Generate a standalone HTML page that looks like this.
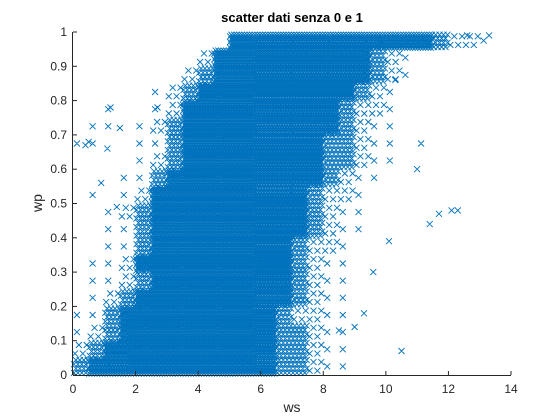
<!DOCTYPE html>
<html><head><meta charset="utf-8">
<style>
body{margin:0;background:#fff;}
svg{display:block;font-family:"Liberation Sans",sans-serif;}
</style></head>
<body>
<svg id="chart" width="560" height="420">
<rect width="560" height="420" fill="#fff"/>
<text x="292" y="22" text-anchor="middle" font-size="13" font-weight="bold" fill="#000">scatter dati senza 0 e 1</text>
<g id="marks"></g>
<g id="axes"></g>
<text x="292" y="412" text-anchor="middle" font-size="14" fill="#262626">ws</text>
<text x="0" y="0" transform="translate(42,203) rotate(-90)" text-anchor="middle" font-size="14" fill="#262626">wp</text>
</svg>
<script>
// density grid: rows = y-bins of 0.05 (bottom to top), cols = x-bins of 0.5 (0..14), level 0-4
const densityRows = [
"3444444444444332110000000000",
"2344444444444332110000000000",
"1234444444444332110000000000",
"1134444444444322110000000000",
"0123444444444432110000000000",
"0112344444444432110000000000",
"0112444444444432110000000000",
"0011344444444432210000000000",
"0011344444444443211000000000",
"0012344444444443211000000000",
"0101244444444443221000000000",
"0001134444444444321100000000",
"0000123444444444332110000000",
"1100113444444444332110100000",
"0110123444444444432110000000",
"0010012444444444432210000000",
"0000012344444444443210000000",
"0000000234444444444321000000",
"0000000024444444444321000000",
"0000000000444444444444432210"
];
const outlierX = [0.4,0.5,1.2,1.1,1.5,2.7,12.3,11.4,11.7,10.1,10.5,13.3,12.6,9.6,10.3,12.1,11.0,9.3,0.9,1.4,8.5,9.0];
const outlierY = [0.67,0.68,0.78,0.66,0.72,0.78,0.48,0.44,0.47,0.39,0.07,0.99,0.99,0.30,0.86,0.48,0.60,0.18,0.56,0.49,0.13,0.14];
const xTicks = [0,2,4,6,8,10,12,14];
const yTicks = [0,0.1,0.2,0.3,0.4,0.5,0.6,0.7,0.8,0.9,1];
const yTickLabels = ["0","0.1","0.2","0.3","0.4","0.5","0.6","0.7","0.8","0.9","1"];
const levelCounts = [0,1,2,4,6];

const X0=73,X1=511,Y0=375,Y1=32;
const sx=v=>X0+(v/14)*(X1-X0);
const sy=v=>Y0-v*(Y0-Y1);
const NS="http://www.w3.org/2000/svg";
const marks=document.getElementById('marks');
let path="";
function cross(px,py){const r=3;path+=`M${(px-r).toFixed(1)} ${(py-r).toFixed(1)}L${(px+r).toFixed(1)} ${(py+r).toFixed(1)}M${(px-r).toFixed(1)} ${(py+r).toFixed(1)}L${(px+r).toFixed(1)} ${(py-r).toFixed(1)}`;}
densityRows.forEach((row,j)=>{
  for(let i=0;i<row.length;i++){
    const n=levelCounts[+row[i]]; if(!n) continue;
    const xa=i*0.5, ya=j*0.05;
    for(let a=0;a<n;a++)for(let b=0;b<n;b++){
      const off=((b%2)-0.5)*0.25/n;
      const vx=xa+((a+0.5)/n)*0.5+off;
      const vy=Math.min(ya+((b+0.5)/n)*0.05,0.992);
      cross(sx(vx),sy(vy));
    }
  }
});
outlierX.forEach((v,k)=>cross(sx(v),sy(outlierY[k])));
const p=document.createElementNS(NS,'path');
p.setAttribute('d',path);p.setAttribute('stroke','#0072BD');p.setAttribute('stroke-width','0.9');p.setAttribute('fill','none');


marks.appendChild(p);

const axes=document.getElementById('axes');
function line(x1,y1,x2,y2,name){const l=document.createElementNS(NS,'line');l.setAttribute('x1',x1);l.setAttribute('y1',y1);l.setAttribute('x2',x2);l.setAttribute('y2',y2);l.setAttribute('stroke','#262626');l.setAttribute('stroke-width','1');


axes.appendChild(l);}
function text(x,y,s,anchor,name){const t=document.createElementNS(NS,'text');t.setAttribute('x',x);t.setAttribute('y',y);t.setAttribute('text-anchor',anchor);t.setAttribute('font-size','12');t.setAttribute('fill','#262626');t.textContent=s;


axes.appendChild(t);}
line(X0,Y0+0.5,X1,Y0+0.5,'x-axis-line');
line(X0-0.5,Y1,X0-0.5,Y0,'y-axis-line');
xTicks.forEach(v=>{line(sx(v),Y0,sx(v),Y0-4,'x-tick');text(sx(v),Y0+18,String(v),'middle','x-tick-label');});
yTicks.forEach((v,k)=>{line(X0,sy(v),X0+4,sy(v),'y-tick');text(X0-6,sy(v)+4,yTickLabels[k],'end','y-tick-label');});
</script>
</body></html>
